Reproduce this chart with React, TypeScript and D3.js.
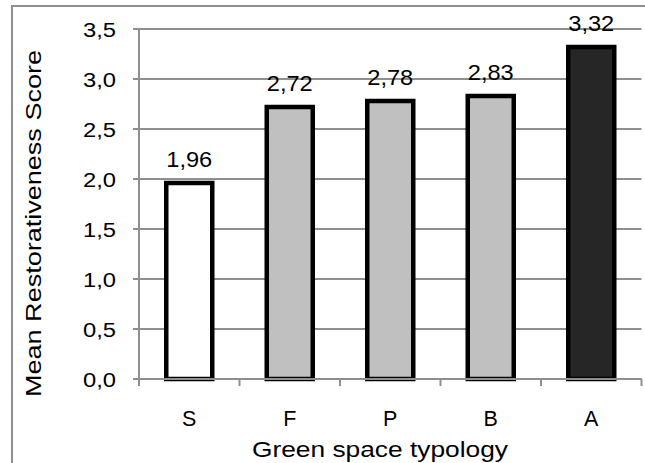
import React from "react";
import * as d3 from "d3";

const categories = ["S", "F", "P", "B", "A"];
const meanScores = [1.96, 2.72, 2.78, 2.83, 3.32];
const scoreLabels = ["1,96", "2,72", "2,78", "2,83", "3,32"];
const yTicks = [0, 0.5, 1, 1.5, 2, 2.5, 3, 3.5];
const barFills = ["#ffffff", "#c0c0c0", "#c0c0c0", "#c0c0c0", "#262626"];

const W = 645;
const H = 463;
const plot = { left: 139, right: 641.5, top: 29, bottom: 379 };
const FONT = "'Liberation Sans', Arial, sans-serif";
const GRID = "#8f8f8f";

export default function App() {
  const x = d3
    .scaleBand<string>()
    .domain(categories)
    .range([plot.left, plot.right])
    .paddingInner(0)
    .paddingOuter(0);
  const y = d3.scaleLinear().domain([0, 3.5]).range([plot.bottom, plot.top]);
  const fmt = (v: number) => d3.format(".1f")(v).replace(".", ",");
  const barW = 46;
  const bounds = [...categories.map((c) => x(c) as number), plot.right];

  return (
    <svg
      width={W}
      height={H}
      style={{ position: "absolute", left: 0, top: 0, background: "#fff" }}
      fontFamily={FONT}
    >
      <rect x={12} y={6} width={W + 50} height={H + 50} fill="#fff" stroke={GRID} strokeWidth={2} />

      {/* horizontal gridlines and y ticks */}
      {yTicks.map((t) => (
        <g key={t}>
          <line x1={plot.left - 6} x2={plot.right} y1={y(t)} y2={y(t)} stroke={GRID} strokeWidth={2} />
          <text
            x={116}
            y={y(t) + 8}
            textAnchor="end"
            fontSize={20.5}
            fill="#000"
            textLength={33}
            lengthAdjust="spacingAndGlyphs"
          >
            {fmt(t)}
          </text>
        </g>
      ))}

      {/* bars */}
      {categories.map((c, i) => {
        const cx = (x(c) as number) + x.bandwidth() / 2;
        return (
          <g key={c}>
            <rect
              x={cx - barW / 2}
              y={y(meanScores[i])}
              width={barW}
              height={plot.bottom - y(meanScores[i])}
              fill={barFills[i]}
              stroke="#000"
              strokeWidth={4.5}
            />
            <text
              x={cx}
              y={y(meanScores[i]) - 16.5}
              textAnchor="middle"
              fontSize={21.5}
              fill="#000"
              textLength={46}
              lengthAdjust="spacingAndGlyphs"
            >
              {scoreLabels[i]}
            </text>
            <text x={cx} y={425.5} textAnchor="middle" fontSize={21.5} fill="#000">
              {c}
            </text>
          </g>
        );
      })}

      {/* axes */}
      <line x1={plot.left} x2={plot.left} y1={plot.top} y2={plot.bottom} stroke={GRID} strokeWidth={2} />
      <line x1={plot.left} x2={plot.right} y1={plot.bottom} y2={plot.bottom} stroke={GRID} strokeWidth={2} />
      {bounds.map((b, i) => (
        <line key={i} x1={b} x2={b} y1={plot.bottom} y2={plot.bottom + 7} stroke={GRID} strokeWidth={2} />
      ))}

      <text
        x={380}
        y={456.5}
        textAnchor="middle"
        fontSize={22}
        fill="#000"
        textLength={256}
        lengthAdjust="spacingAndGlyphs"
      >
        Green space typology
      </text>
      <text
        transform={`translate(40.5, 223.5) rotate(-90)`}
        textAnchor="middle"
        fontSize={22}
        fill="#000"
        textLength={347}
        lengthAdjust="spacingAndGlyphs"
      >
        Mean Restorativeness Score
      </text>
    </svg>
  );
}
